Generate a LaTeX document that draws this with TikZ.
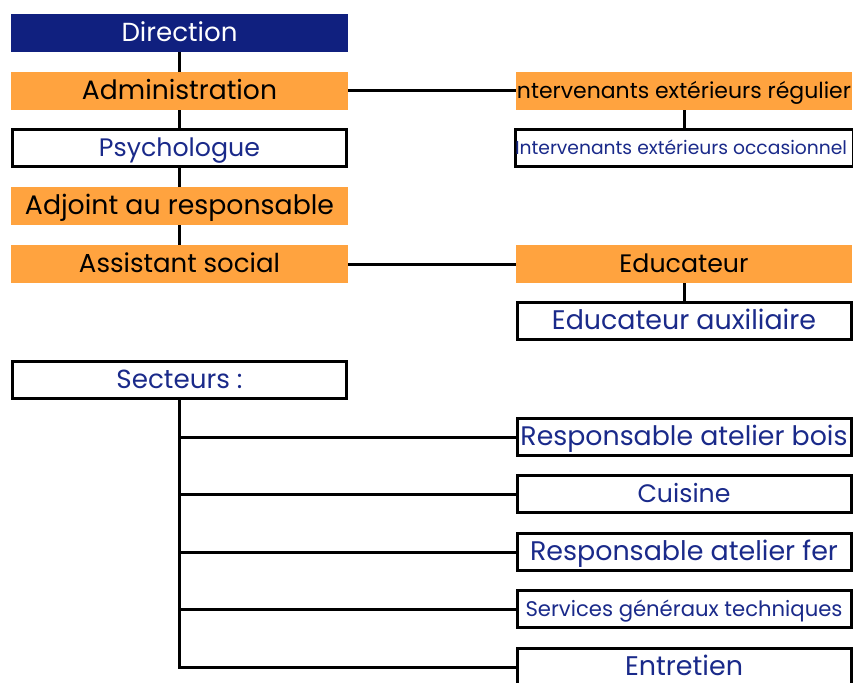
\documentclass[tikz,border=0pt]{standalone}
\usepackage{fontspec}
\usepackage{graphicx}
\setmainfont{Poppins}
\usetikzlibrary{backgrounds}
\definecolor{navyfill}{HTML}{10207F}
\definecolor{orangefill}{HTML}{FFA33F}
\definecolor{navytext}{HTML}{1A2A8A}
\newcommand{\fitw}[2]{\raisebox{-2.5pt}[\height][\depth]{\resizebox{#1pt}{!}{\strut #2}}}
\tikzset{
  navybox/.style={fill=navyfill, text=white, minimum width=337pt, minimum height=38pt, inner sep=0pt, outer sep=0pt},
  orangebox/.style={fill=orangefill, text=black, minimum width=337pt, minimum height=38pt, inner sep=0pt, outer sep=0pt},
  whitebox/.style={draw=black, line width=3pt, fill=white, text=navytext, minimum width=334pt, minimum height=37pt, inner sep=0pt},
  link/.style={draw=black, line width=3pt}
}
\begin{document}
\begin{tikzpicture}[x=1pt,y=-1pt]
\clip (0,0) rectangle (853,682);
% left column
\node[navybox] (dir) at (179.5,33) {\fitw{116}{Direction}};
\node[orangebox] (adm) at (179.5,91) {\fitw{195}{Administration}};
\node[whitebox] (psy) at (179.5,148) {\fitw{161}{Psychologue}};
\node[orangebox] (adj) at (179.5,206) {\fitw{309}{Adjoint au responsable}};
\node[orangebox] (ass) at (179.5,264) {\fitw{201}{Assistant social}};
\node[whitebox] (sec) at (179.5,379.5) {\fitw{126}{Secteurs :}};
% right column
\node[orangebox, minimum width=336pt] (reg) at (684,91) {\fitw{334}{ntervenants extérieurs régulier}};
\node[whitebox] (occ) at (684,148) {\fitw{332}{Intervenants extérieurs occasionnel}\hspace*{6pt}};
\node[orangebox, minimum width=336pt] (edu) at (684,264) {\fitw{129}{Educateur}};
\node[whitebox] (eaux) at (684,321) {\fitw{264}{Educateur auxiliaire}};
\node[whitebox] (bois) at (684,437) {\fitw{327}{Responsable atelier bois}};
\node[whitebox] (cui) at (684,494) {\fitw{93}{Cuisine}};
\node[whitebox] (fer) at (684,552) {\fitw{308}{Responsable atelier fer}};
\node[whitebox] (serv) at (684,609) {\fitw{317}{Services généraux techniques}};
\node[whitebox] (ent) at (684,667) {\fitw{118}{Entretien}};
\begin{scope}[on background layer]
\draw[link] (dir.south) -- (ass.north);
\draw[link] (adm.east) -- (reg.west);
\draw[link] (reg.south) -- (occ.north);
\draw[link] (ass.east) -- (edu.west);
\draw[link] (edu.south) -- (eaux.north);
\draw[link] (sec.south) -- (sec.south |- ent.west) -- (ent.west);
\draw[link] (sec.south |- bois.west) -- (bois.west);
\draw[link] (sec.south |- cui.west) -- (cui.west);
\draw[link] (sec.south |- fer.west) -- (fer.west);
\draw[link] (sec.south |- serv.west) -- (serv.west);
\end{scope}
\end{tikzpicture}
\end{document}
